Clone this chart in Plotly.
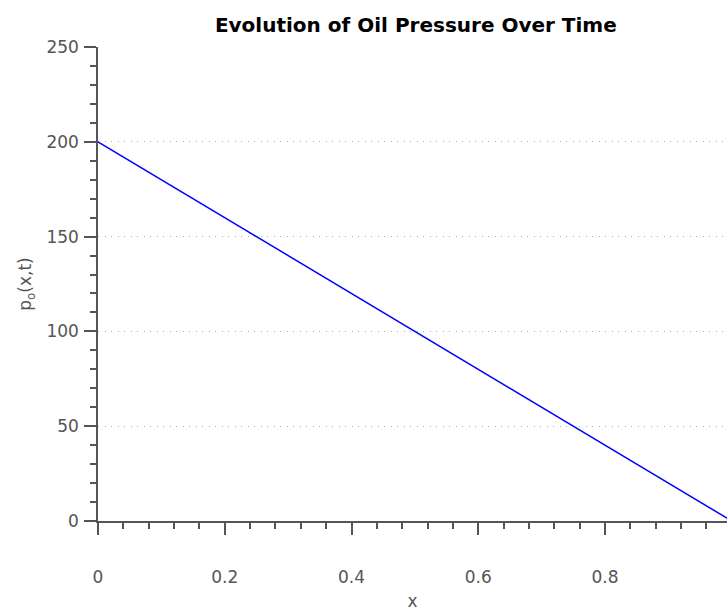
import plotly.graph_objects as go

x_values = [0.0, 0.25, 0.5, 0.75, 1.0]
p_values = [200.0, 150.0, 100.0, 50.0, 0.0]
x_ticks = [0, 0.2, 0.4, 0.6, 0.8]
x_tick_labels = ["0", "0.2", "0.4", "0.6", "0.8"]
y_ticks = [0, 50, 100, 150, 200, 250]

FONT = "Century Gothic, URW Gothic, DejaVu Sans, sans-serif"
GREY = "#555555"

fig = go.Figure()
fig.add_trace(go.Scatter(x=x_values, y=p_values, mode="lines",
                         line=dict(color="#0000ff", width=1.5), showlegend=False))

axis_common = dict(
    showline=True, linecolor=GREY, linewidth=1.5,
    ticks="outside", ticklen=12, tickwidth=1.5, tickcolor=GREY,
    tickfont=dict(family=FONT, size=17, color=GREY),
    zeroline=False, automargin=False,
)

fig.update_layout(
    width=727, height=611,
    margin=dict(l=98, r=0, t=47, b=90),
    plot_bgcolor="white", paper_bgcolor="white",
    title=dict(text="<b>Evolution of Oil Pressure Over Time</b>",
               font=dict(family=FONT, size=20, color="black"),
               x=0.572, xanchor="center", y=0.959, yanchor="middle"),
    xaxis=dict(range=[0, 0.9925], tickvals=x_ticks, ticktext=x_tick_labels,
               showgrid=False, ticklabelstandoff=28,
               minor=dict(dtick=0.04, ticks="outside", ticklen=6, tickwidth=1.5,
                          tickcolor=GREY, showgrid=False),
               title=dict(text="x", font=dict(family=FONT, size=17, color=GREY),
                          standoff=9),
               **axis_common),
    yaxis=dict(range=[0, 250], tickvals=y_ticks, showgrid=True,
               gridcolor="#aaaaaa", griddash="1px,5.5px", gridwidth=1,
               ticklabelstandoff=2,
               minor=dict(dtick=10, ticks="outside", ticklen=6, tickwidth=1.5,
                          tickcolor=GREY, showgrid=False),
               title=dict(text="p<sub>o</sub>(x,t)", font=dict(family=FONT, size=17, color=GREY),
                          standoff=10),
               **axis_common),
)

fig.write_html("out.html", config={"displayModeBar": False},
               post_script="document.body.style.margin='0';document.body.style.overflow='hidden';")
